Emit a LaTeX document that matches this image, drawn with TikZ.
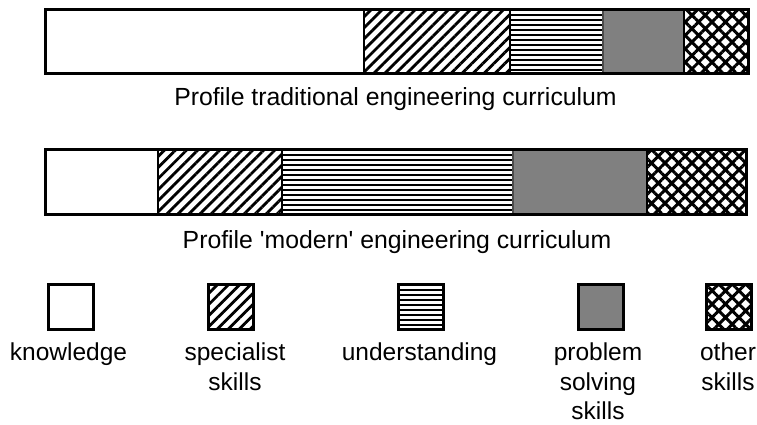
\documentclass[tikz,border=0pt]{standalone}
\usepackage{fontspec}
\setmainfont{Liberation Sans}
\usetikzlibrary{patterns.meta,calc}
\definecolor{probgray}{RGB}{128,128,128}
\tikzset{
  seg/.style={draw=black, line width=1.5pt},
  knowfill/.style={fill=white},
  specfill/.style={pattern={Lines[angle=45,distance=7.8pt,line width=2.8pt]}},
  undfill/.style={fill=white, path picture={
      \path (path picture bounding box.north west) coordinate (nw)
            (path picture bounding box.south east) coordinate (se);
      \foreach \k in {0,...,14}{
        \draw[line width=1.9pt] ($(nw)+(0,\k*5+0.5)$) -- ($(nw -| se)+(0,\k*5+0.5)$);
      }}},
  probfill/.style={fill=probgray},
  othfill/.style={pattern={Hatch[angle=45,distance=9.5pt,line width=3pt]}},
  outer/.style={draw=black, line width=3pt},
  legbox/.style={draw=black, line width=3pt, minimum width=45pt, minimum height=45pt, inner sep=0pt},
  leglabel/.style={anchor=north, align=center, inner sep=0pt, font=\fontsize{24.5}{29.5}\selectfont},
  caption/.style={anchor=base, inner sep=0pt, font=\fontsize{24.8}{29.5}\selectfont}
}
\begin{document}
\begin{tikzpicture}[x=1pt,y=-1pt]
\useasboundingbox (0,0) rectangle (757,425);
% traditional profile bar
\path[seg,knowfill] (45,9.5) rectangle (364,73.5);
\path[seg,specfill] (364,9.5) rectangle (510,73.5);
\path[seg,undfill] (510,9.5) rectangle (603,73.5);
\path[seg,probfill,draw=black!70] (603,9.5) rectangle (684,73.5);
\path[seg,othfill] (684,9.5) rectangle (748,73.5);
\path[outer] (45,9.5) rectangle (748,73.5);
\node[caption] (cap1) at (395.5,106) {Profile traditional engineering curriculum};
% modern profile bar
\path[seg,knowfill] (45,149.5) rectangle (158,214.5);
\path[seg,specfill] (158,149.5) rectangle (282,214.5);
\path[seg,undfill] (282,149.5) rectangle (513,214.5);
\path[seg,probfill,draw=black!70] (513,149.5) rectangle (647,214.5);
\path[seg,othfill] (647,149.5) rectangle (746.5,214.5);
\path[outer] (45,149.5) rectangle (746.5,214.5);
\node[caption] (cap2) at (397,248) {Profile \textquotesingle modern\textquotesingle{} engineering curriculum};
% legend
\node[legbox,knowfill] (lk) at (71.3,306.8) {};
\node[legbox,specfill] (ls) at (231.3,306.8) {};
\node[legbox,undfill] (lu) at (421.2,306.8) {};
\node[legbox,probfill] (lp) at (600.7,306.8) {};
\node[legbox,othfill] (lo) at (728.7,306.8) {};
\node[leglabel] (tk) at (68.5,343) {knowledge};
\node[leglabel] (ts) at (235,343) {specialist\\skills};
\node[leglabel] (tu) at (419.5,343) {understanding};
\node[leglabel] (tp) at (598,343) {problem\\solving\\skills};
\node[leglabel] (to) at (728,343) {other\\skills};
\end{tikzpicture}
\end{document}
